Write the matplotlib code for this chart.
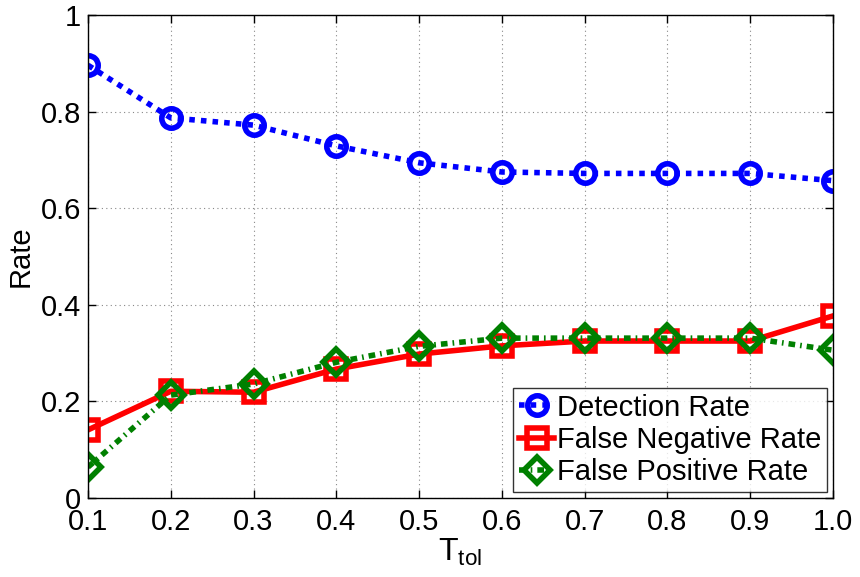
import matplotlib
matplotlib.use("Agg")
import matplotlib.pyplot as plt

plt.rcParams['font.family'] = ['Liberation Sans', 'DejaVu Sans']
plt.rcParams['mathtext.fontset'] = 'custom'
plt.rcParams['mathtext.rm'] = 'Liberation Sans'
plt.rcParams['mathtext.it'] = 'Liberation Sans'

t_tol = [0.1, 0.2, 0.3, 0.4, 0.5, 0.6, 0.7, 0.8, 0.9, 1.0]
detection_rate = [0.896, 0.787, 0.772, 0.729, 0.694, 0.675, 0.672, 0.672, 0.672, 0.657]
false_negative_rate = [0.141, 0.221, 0.219, 0.267, 0.298, 0.315, 0.325, 0.325, 0.325, 0.377]
false_positive_rate = [0.064, 0.213, 0.236, 0.281, 0.314, 0.331, 0.331, 0.331, 0.331, 0.306]
x_ticks = [0.1, 0.2, 0.3, 0.4, 0.5, 0.6, 0.7, 0.8, 0.9, 1.0]
x_tick_labels = ['0.1', '0.2', '0.3', '0.4', '0.5', '0.6', '0.7', '0.8', '0.9', '1.0']
y_ticks = [0, 0.2, 0.4, 0.6, 0.8, 1]
y_tick_labels = ['0', '0.2', '0.4', '0.6', '0.8', '1']

fig = plt.figure(figsize=(8.6, 5.77), dpi=100)
ax = fig.add_axes([88/860, 1 - 498/577, (833-88)/860, (498-15)/577])

ax.plot(t_tol, detection_rate, color='#0000ff', lw=4, linestyle=(0, (1, 1.1)),
        marker='o', markersize=14, markeredgewidth=4, markerfacecolor='none',
        markeredgecolor='#0000ff', label='Detection Rate', dash_capstyle='butt')
ax.plot(t_tol, false_negative_rate, color='#ff0000', lw=4, linestyle='-',
        marker='s', markersize=14, markeredgewidth=4, markerfacecolor='none',
        markeredgecolor='#ff0000', label='False Negative Rate')
ax.plot(t_tol, false_positive_rate, color='#008000', lw=4, linestyle=(0, (1.2, 0.9, 0.3, 0.9)),
        marker='D', markersize=13, markeredgewidth=4, markerfacecolor='none',
        markeredgecolor='#008000', label='False Positive Rate')

ax.set_xlim(0.1, 1.0)
ax.set_ylim(0, 1)
ax.set_xticks(x_ticks)
ax.set_xticklabels(x_tick_labels)
ax.set_yticks(y_ticks)
ax.set_yticklabels(y_tick_labels)
ax.tick_params(direction='in', length=6, width=1, labelsize=21, top=True, right=True, pad=5)
ax.tick_params(axis='x', pad=7)
ax.grid(True, linestyle=(0, (1, 3)), color='#888888', lw=0.8)
for s in ax.spines.values():
    s.set_linewidth(1.0)

ax.set_ylabel('Rate', fontsize=21, labelpad=4)
ax.set_xlabel(r'T$_{\mathrm{tol}}$', fontsize=23, labelpad=1)

leg = ax.legend(loc='lower right', fontsize=21, frameon=True, fancybox=False,
                edgecolor='black', borderaxespad=0.2, handlelength=1.2,
                handletextpad=0.1, borderpad=0.2, labelspacing=0.15)
leg.get_frame().set_linewidth(1.0)

fig.savefig('out.png', dpi=100)
